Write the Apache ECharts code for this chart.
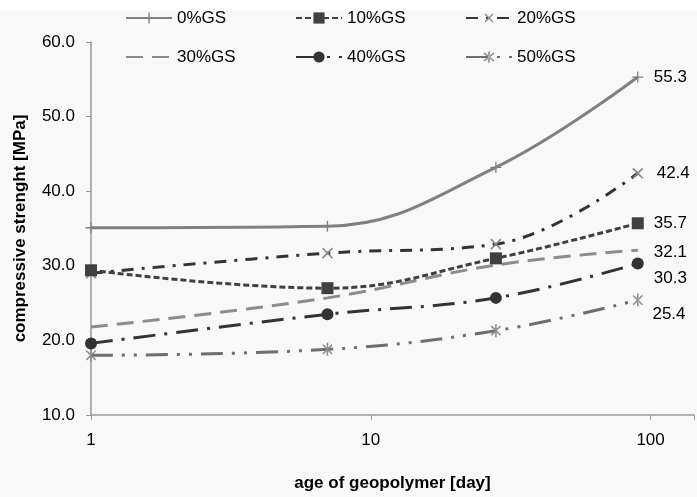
<!DOCTYPE html>
<html><head><meta charset="utf-8">
<script src="https://cdn.jsdelivr.net/npm/echarts@6/dist/echarts.min.js"></script>
<style>html,body{margin:0;padding:0;background:#fff}#c{width:697px;height:497px}</style>
</head><body><div id="c"></div>
<script>
// ---- data ----
const days = [1, 7, 28, 90];
const seriesNames = ['0%GS', '10%GS', '20%GS', '30%GS', '40%GS', '50%GS'];
const gs0  = [35.1, 35.3, 43.2, 55.3];
const gs10 = [29.4, 27.0, 31.0, 35.7];
const gs20 = [29.0, 31.7, 32.9, 42.4];
const gs30 = [21.8, 25.7, 30.1, 32.1];
const gs40 = [19.6, 23.5, 25.7, 30.3];
const gs50 = [18.0, 18.8, 21.3, 25.4];
const yTicks = [10, 20, 30, 40, 50, 60];
const xTicks = [1, 10, 100];
const xTitle = 'age of geopolymer [day]';
const yTitle = 'compressive strenght [MPa]';

// ---- styles ----
const FONT = '"Liberation Sans", Arial, sans-serif';
const PLUS = 'path://M-1.2,-10L1.2,-10L1.2,-1.2L10,-1.2L10,1.2L1.2,1.2L1.2,10L-1.2,10L-1.2,1.2L-10,1.2L-10,-1.2L-1.2,-1.2Z';
const STAR = 'path://M-1.2,-10L1.2,-10L1.2,10L-1.2,10Z' +
  'M6.222,7.920L7.920,6.222L-6.222,-7.920L-7.920,-6.222Z' +
  'M-7.920,6.222L-6.222,7.920L7.920,-6.222L6.222,-7.920Z';
const styles = [
  { line: '#808080', w: 3, dash: 'solid', symbol: PLUS, size: 11, fill: '#808080', rot: 0, dy: 0 },
  { line: '#404040', w: 3, dash: [6, 3], symbol: 'rect', size: 12, fill: '#404040', rot: 0, dy: 0 },
  { line: '#333333', w: 3, dash: [12, 8, 3, 8], symbol: PLUS, size: 14, fill: '#8c8c8c', rot: 45, dy: 0 },
  { line: '#8c8c8c', w: 3, dash: [17, 9], symbol: 'circle', size: 1, fill: 'rgba(0,0,0,0)', rot: 0, dy: 2 },
  { line: '#333333', w: 3, dash: [22, 9, 3, 9], symbol: 'circle', size: 12, fill: '#333333', rot: 0, dy: 15 },
  { line: '#6e6e6e', w: 3, dash: [22, 9, 3, 9, 3, 9], symbol: STAR, size: 13, fill: '#8c8c8c', rot: 0, dy: 14 }
];
const allValues = [gs0, gs10, gs20, gs30, gs40, gs50];

const series = allValues.map((vals, k) => {
  const s = styles[k];
  return {
    name: seriesNames[k],
    type: 'line',
    smooth: 0.4,
    symbol: s.symbol,
    symbolSize: s.size,
    symbolRotate: s.rot,
    symbolKeepAspect: true,
    showAllSymbol: true,
    lineStyle: { color: s.line, width: s.w, type: s.dash },
    itemStyle: { color: s.fill },
    z: 10 - k,
    data: vals.map((v, i) => i === vals.length - 1 ? {
      value: [days[i], v],
      label: {
        show: true, position: 'right', distance: 16 - s.size / 2, offset: [0, s.dy],
        formatter: (p) => p.value[1].toFixed(1),
        color: '#000', fontSize: 17, fontFamily: FONT
      }
    } : [days[i], v])
  };
});

const legendCols = [[0, 3], [1, 4], [2, 5]];
const legendLeft = [125, 295, 465];
const legends = legendCols.map((col, c) => ({
  orient: 'vertical',
  left: legendLeft[c], top: 8,
  padding: 0,
  itemWidth: 46, itemHeight: 14, itemGap: 19,
  data: col.map(i => seriesNames[i]),
  textStyle: { fontSize: 17, fontFamily: FONT, color: '#000', lineHeight: 20 },
  selectedMode: false
}));

const chart = echarts.init(document.getElementById('c'), null, { renderer: 'canvas' });
chart.setOption({
  animation: false,
  backgroundColor: '#f8f8f8',
  graphic: [{ type: 'rect', shape: { x: 0, y: 0, width: 697, height: 11 }, style: { fill: '#ffffff' }, silent: true }],
  legend: legends,
  grid: { left: 91, top: 42, right: -5, bottom: 74, containLabel: false },
  xAxis: {
    type: 'log', logBase: 10, min: xTicks[0], max: Math.pow(10, 611 / 283.5),
    name: xTitle, nameLocation: 'middle', nameGap: 60,
    nameTextStyle: { fontSize: 17, fontWeight: 'bold', fontFamily: FONT, color: '#000' },
    axisLine: { show: true, lineStyle: { color: '#999', width: 1.5 } },
    axisTick: { show: true, length: 5, lineStyle: { color: '#999' } },
    minorTick: { show: false },
    splitLine: { show: false },
    axisLabel: {
      margin: 17, fontSize: 17, fontFamily: FONT, color: '#000',
      formatter: (v) => xTicks.some(t => Math.abs(t - v) < 1e-6 * t) ? String(Math.round(v)) : ''
    }
  },
  yAxis: {
    type: 'value', min: yTicks[0], max: yTicks[yTicks.length - 1], interval: 10,
    name: yTitle, nameLocation: 'middle', nameGap: 62,
    nameTextStyle: { fontSize: 17, fontWeight: 'bold', fontFamily: FONT, color: '#000' },
    axisLine: { show: true, lineStyle: { color: '#999', width: 1.5 } },
    axisTick: { show: true, length: 5, lineStyle: { color: '#999' } },
    splitLine: { show: false },
    axisLabel: { margin: 16, fontSize: 17, fontFamily: FONT, color: '#000', formatter: (v) => v.toFixed(1) }
  },
  series: series
});
</script>
</body></html>
